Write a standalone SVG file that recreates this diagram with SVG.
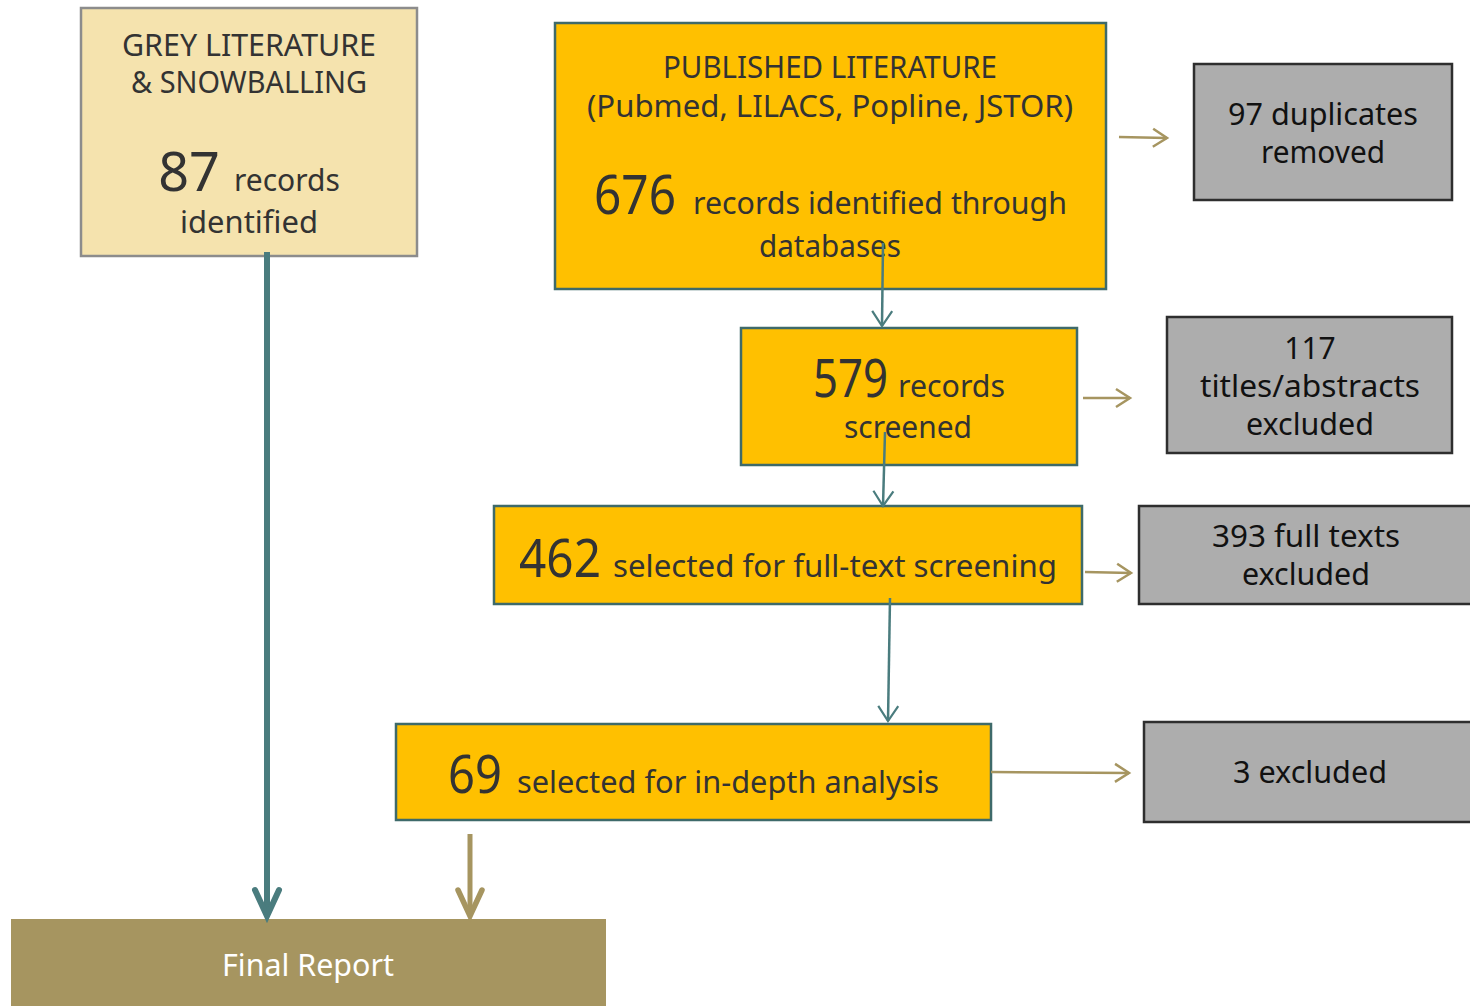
<svg xmlns="http://www.w3.org/2000/svg" width="1470" height="1006" viewBox="0 0 1470 1006">
<defs>
<style>
text{font-family:"Noto Sans","Open Sans","DejaVu Sans",sans-serif;fill:#333;text-anchor:middle}
.src{fill:#F5E3AE;stroke:#8C8C8C;stroke-width:2.5}
.step{fill:#FFC000;stroke:#3E6A6A;stroke-width:2.5}
.ex{fill:#ADADAD;stroke:#2E2E2E;stroke-width:2.5}
.ex text, text.k{fill:#111}
.t28{font-size:28px}
.t30{font-size:30px}
.big{font-size:54px}
.teal{stroke:#4A7C7E;fill:none}
.tan{stroke:#A69560;fill:none}
</style>
<marker id="ht" markerUnits="userSpaceOnUse" markerWidth="24" markerHeight="24" refX="17" refY="12" orient="auto" viewBox="0 0 24 24">
<path d="M2,2 L17,12 L2,22" fill="none" stroke="#4A7C7E" stroke-width="2.2"/>
</marker>
<marker id="hn" markerUnits="userSpaceOnUse" markerWidth="24" markerHeight="24" refX="16" refY="12" orient="auto" viewBox="0 0 24 24">
<path d="M2,3 L16,12 L2,21" fill="none" stroke="#A69560" stroke-width="2.5"/>
</marker>
<marker id="htB" markerUnits="userSpaceOnUse" markerWidth="40" markerHeight="40" refX="30" refY="20" orient="auto" viewBox="0 0 40 40">
<path d="M4,8 L30,20 L4,32" fill="none" stroke="#4A7C7E" stroke-width="6" stroke-linecap="round" stroke-linejoin="miter"/>
</marker>
<marker id="hnB" markerUnits="userSpaceOnUse" markerWidth="40" markerHeight="40" refX="30" refY="20" orient="auto" viewBox="0 0 40 40">
<path d="M4,8 L30,20 L4,32" fill="none" stroke="#A69560" stroke-width="5.5" stroke-linecap="round"/>
</marker>
</defs>

<g id="grey-literature">
<rect class="src" x="81" y="8" width="336" height="248"/>
<text class="t30" x="249" y="56" textLength="254" lengthAdjust="spacingAndGlyphs">GREY LITERATURE</text>
<text class="t30" x="249" y="93" textLength="236" lengthAdjust="spacingAndGlyphs">&amp; SNOWBALLING</text>
<text x="249" y="191"><tspan class="big" font-size="54">87</tspan><tspan font-size="30" dx="14">records</tspan></text>
<text class="t30" x="249" y="233" textLength="138" lengthAdjust="spacingAndGlyphs">identified</text>
</g>

<g id="published-literature">
<rect class="step" x="555" y="23" width="551" height="266"/>
<text class="t30" x="830" y="78" textLength="334" lengthAdjust="spacingAndGlyphs">PUBLISHED LITERATURE</text>
<text class="t30" x="830" y="117" textLength="486" lengthAdjust="spacingAndGlyphs">(Pubmed, LILACS, Popline, JSTOR)</text>
<text style="text-anchor:start" x="594" y="214" font-size="54" textLength="82" lengthAdjust="spacingAndGlyphs">676</text>
<text style="text-anchor:start" x="693" y="214" font-size="30" textLength="374" lengthAdjust="spacingAndGlyphs">records identified through</text>
<text class="t30" x="830" y="257" textLength="142" lengthAdjust="spacingAndGlyphs">databases</text>
</g>

<g id="duplicates">
<rect class="ex" x="1194" y="64" width="258" height="136"/>
<text class="t30 k" x="1323" y="125" textLength="190" lengthAdjust="spacingAndGlyphs">97 duplicates</text>
<text class="t30 k" x="1323" y="163" textLength="124" lengthAdjust="spacingAndGlyphs">removed</text>
</g>

<g id="screened">
<rect class="step" x="741" y="328" width="336" height="137"/>
<text style="text-anchor:start" x="813" y="397" font-size="52" textLength="75" lengthAdjust="spacingAndGlyphs">579</text>
<text style="text-anchor:start" x="898" y="397" font-size="30" textLength="107" lengthAdjust="spacingAndGlyphs">records</text>
<text class="t30" x="908" y="438" textLength="128" lengthAdjust="spacingAndGlyphs">screened</text>
</g>

<g id="titles-excluded">
<rect class="ex" x="1167" y="317" width="285" height="136"/>
<text class="t30 k" x="1310" y="359">117</text>
<text class="t30 k" x="1310" y="397" textLength="220" lengthAdjust="spacingAndGlyphs">titles/abstracts</text>
<text class="t30 k" x="1310" y="435" textLength="128" lengthAdjust="spacingAndGlyphs">excluded</text>
</g>

<g id="full-text">
<rect class="step" x="494" y="506" width="588" height="98"/>
<text style="text-anchor:start" x="519" y="577" font-size="52" textLength="82" lengthAdjust="spacingAndGlyphs">462</text>
<text style="text-anchor:start" x="613" y="577" font-size="30" textLength="444" lengthAdjust="spacingAndGlyphs">selected for full-text screening</text>
</g>

<g id="full-texts-excluded">
<rect class="ex" x="1139" y="506" width="340" height="98"/>
<text class="t30 k" x="1306" y="547" textLength="188" lengthAdjust="spacingAndGlyphs">393 full texts</text>
<text class="t30 k" x="1306" y="585" textLength="128" lengthAdjust="spacingAndGlyphs">excluded</text>
</g>

<g id="in-depth">
<rect class="step" x="396" y="724" width="595" height="96"/>
<text style="text-anchor:start" x="448" y="793" font-size="52" textLength="54" lengthAdjust="spacingAndGlyphs">69</text>
<text style="text-anchor:start" x="517" y="793" font-size="30" textLength="422" lengthAdjust="spacingAndGlyphs">selected for in-depth analysis</text>
</g>

<g id="excluded-3">
<rect class="ex" x="1144" y="722" width="335" height="100"/>
<text class="t30 k" x="1310" y="783" textLength="154" lengthAdjust="spacingAndGlyphs">3 excluded</text>
</g>

<g id="final-report">
<rect x="11" y="919" width="595" height="87" fill="#A69560"/>
<text class="t30" x="308" y="976" style="fill:#FFFFFF" textLength="172" lengthAdjust="spacingAndGlyphs">Final Report</text>
</g>

<g id="connectors">
<line class="teal" stroke-width="2.5" x1="883" y1="243" x2="882" y2="326" marker-end="url(#ht)"/>
<line class="teal" stroke-width="2.5" x1="885" y1="432" x2="883" y2="506" marker-end="url(#ht)"/>
<line class="teal" stroke-width="2.5" x1="890" y1="598" x2="888" y2="721" marker-end="url(#ht)"/>
<line class="tan" stroke-width="2.5" x1="1119" y1="137" x2="1167" y2="138" marker-end="url(#hn)"/>
<line class="tan" stroke-width="2.5" x1="1083" y1="398" x2="1130" y2="398" marker-end="url(#hn)"/>
<line class="tan" stroke-width="2.5" x1="1085" y1="572" x2="1131" y2="573" marker-end="url(#hn)"/>
<line class="tan" stroke-width="2.5" x1="991" y1="772" x2="1129" y2="773" marker-end="url(#hn)"/>
<line class="teal" stroke-width="6" x1="267" y1="252" x2="267" y2="916" marker-end="url(#htB)"/>
<line class="tan" stroke-width="5" x1="470" y1="834" x2="470" y2="916" marker-end="url(#hnB)"/>
</g>
</svg>
